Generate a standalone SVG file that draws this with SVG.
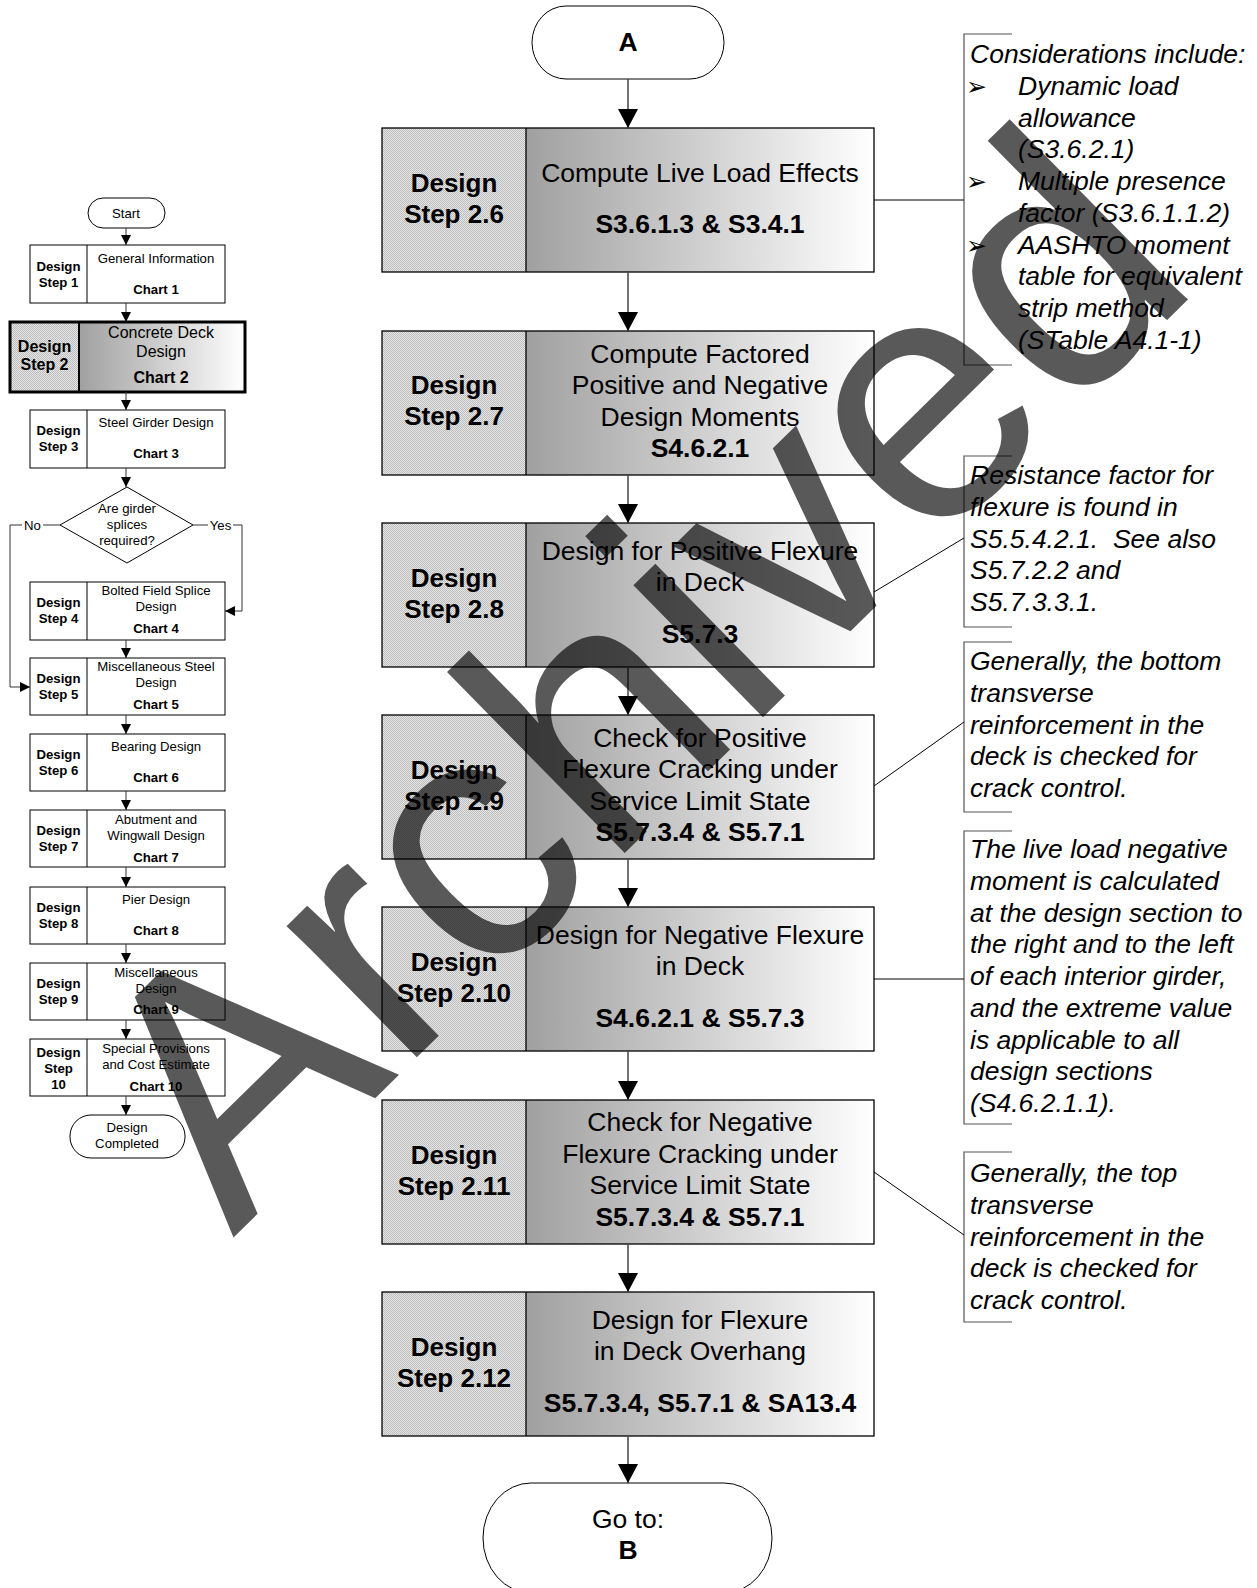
<svg xmlns="http://www.w3.org/2000/svg" width="1257" height="1588" viewBox="0 0 1257 1588">
  <defs>
    <pattern id="stipple" width="2" height="2" patternUnits="userSpaceOnUse">
      <rect width="2" height="2" fill="#e6e6e6"/>
      <rect width="1" height="1" fill="#bcbcbc"/>
      <rect x="1" y="1" width="1" height="1" fill="#bcbcbc"/>
    </pattern>
    <linearGradient id="shade" x1="0" y1="0" x2="1" y2="0">
      <stop offset="0" stop-color="#a0a0a0"/>
      <stop offset="1" stop-color="#ffffff"/>
    </linearGradient>
    <marker id="arrowL" viewBox="0 0 10 10" refX="10" refY="5" markerWidth="10" markerHeight="10" markerUnits="userSpaceOnUse" orient="auto">
      <path d="M0,0 L10,5 L0,10 Z" fill="#000"/>
    </marker>
    <marker id="arrowM" viewBox="0 0 19 20" refX="19" refY="10" markerWidth="19" markerHeight="20" markerUnits="userSpaceOnUse" orient="auto">
      <path d="M0,0 L19,10 L0,20 Z" fill="#000"/>
    </marker>
  </defs>
  <style>
    text { font-family: "Liberation Sans", Arial, sans-serif; fill: #000; }
    .box { fill: #fff; stroke: #000; stroke-width: 1; }
    .hl { stroke: #000; stroke-width: 3; fill: none; }
    .st { fill: url(#stipple); }
    .gr { fill: url(#shade); }
    .mbox { fill: none; stroke: #000; stroke-width: 1.3; }
    .s13 { font-size: 13.2px; text-anchor: middle; }
    .b13 { font-size: 13.2px; font-weight: bold; text-anchor: middle; }
    .s16 { font-size: 16px; text-anchor: middle; }
    .b16 { font-size: 16px; font-weight: bold; text-anchor: middle; }
    .mt { font-size: 26.5px; text-anchor: middle; }
    .mb { font-size: 26.5px; font-weight: bold; text-anchor: middle; }
    .lb { font-size: 26px; font-weight: bold; text-anchor: middle; }
    .note { font-size: 26.5px; font-style: italic; }
    .bul { font-family: "DejaVu Sans", sans-serif; font-size: 25px; }
    .conn { fill: none; stroke: #333; stroke-width: 1; }
    .mconn { fill: none; stroke: #444; stroke-width: 1.5; }
    .lead { fill: none; stroke: #000; stroke-width: 1; }
    .brk { fill: none; stroke: #555; stroke-width: 1.2; }
  </style>

  <!-- ===== overview flowchart (left) ===== -->
  <g id="start">
    <rect class="box" x="88" y="198" width="77" height="30" rx="15" ry="15"/>
    <text class="s13" x="126" y="218">Start</text>
  </g>
  <g id="step1">
    <rect class="box" x="30" y="245" width="195" height="58"/>
    <line x1="87" y1="245" x2="87" y2="303" stroke="#000"/>
    <text class="b13" x="58.5" y="271">Design</text>
    <text class="b13" x="58.5" y="287">Step 1</text>
    <text class="s13" x="156" y="263">General Information</text>
    <text class="b13" x="156" y="294">Chart 1</text>
  </g>
  <g id="step2">
    <rect class="st" x="10" y="322" width="69" height="70"/>
    <rect class="gr" x="79" y="322" width="166" height="70"/>
    <rect class="hl" x="10" y="322" width="235" height="70"/>
    <line x1="79" y1="322" x2="79" y2="392" stroke="#000" stroke-width="2"/>
    <text class="b16" x="44.5" y="352">Design</text>
    <text class="b16" x="44.5" y="370">Step 2</text>
    <text class="s16" x="161" y="338">Concrete Deck</text>
    <text class="s16" x="161" y="357">Design</text>
    <text class="b16" x="161" y="383">Chart 2</text>
  </g>
  <g id="step3">
    <rect class="box" x="30" y="410" width="195" height="58"/>
    <line x1="87" y1="410" x2="87" y2="468" stroke="#000"/>
    <text class="b13" x="58.5" y="435">Design</text>
    <text class="b13" x="58.5" y="451">Step 3</text>
    <text class="s13" x="156" y="427">Steel Girder Design</text>
    <text class="b13" x="156" y="458">Chart 3</text>
  </g>
  <g id="splices">
    <polygon class="box" points="127,487 193,525 127,563 60,525"/>
    <text class="s13" x="127" y="513">Are girder</text>
    <text class="s13" x="127" y="529">splices</text>
    <text class="s13" x="127" y="545">required?</text>
  </g>
  <g id="step4">
    <rect class="box" x="30" y="582" width="195" height="58"/>
    <line x1="87" y1="582" x2="87" y2="640" stroke="#000"/>
    <text class="b13" x="58.5" y="607">Design</text>
    <text class="b13" x="58.5" y="623">Step 4</text>
    <text class="s13" x="156" y="595">Bolted Field Splice</text>
    <text class="s13" x="156" y="611">Design</text>
    <text class="b13" x="156" y="633">Chart 4</text>
  </g>
  <g id="step5">
    <rect class="box" x="30" y="658" width="195" height="57"/>
    <line x1="87" y1="658" x2="87" y2="715" stroke="#000"/>
    <text class="b13" x="58.5" y="683">Design</text>
    <text class="b13" x="58.5" y="699">Step 5</text>
    <text class="s13" x="156" y="671">Miscellaneous Steel</text>
    <text class="s13" x="156" y="687">Design</text>
    <text class="b13" x="156" y="709">Chart 5</text>
  </g>
  <g id="step6">
    <rect class="box" x="30" y="734" width="195" height="57"/>
    <line x1="87" y1="734" x2="87" y2="791" stroke="#000"/>
    <text class="b13" x="58.5" y="759">Design</text>
    <text class="b13" x="58.5" y="775">Step 6</text>
    <text class="s13" x="156" y="751">Bearing Design</text>
    <text class="b13" x="156" y="782">Chart 6</text>
  </g>
  <g id="step7">
    <rect class="box" x="30" y="810" width="195" height="57"/>
    <line x1="87" y1="810" x2="87" y2="867" stroke="#000"/>
    <text class="b13" x="58.5" y="835">Design</text>
    <text class="b13" x="58.5" y="851">Step 7</text>
    <text class="s13" x="156" y="824">Abutment and</text>
    <text class="s13" x="156" y="840">Wingwall Design</text>
    <text class="b13" x="156" y="862">Chart 7</text>
  </g>
  <g id="step8">
    <rect class="box" x="30" y="887" width="195" height="57"/>
    <line x1="87" y1="887" x2="87" y2="944" stroke="#000"/>
    <text class="b13" x="58.5" y="912">Design</text>
    <text class="b13" x="58.5" y="928">Step 8</text>
    <text class="s13" x="156" y="904">Pier Design</text>
    <text class="b13" x="156" y="935">Chart 8</text>
  </g>
  <g id="step9">
    <rect class="box" x="30" y="963" width="195" height="57"/>
    <line x1="87" y1="963" x2="87" y2="1020" stroke="#000"/>
    <text class="b13" x="58.5" y="988">Design</text>
    <text class="b13" x="58.5" y="1004">Step 9</text>
    <text class="s13" x="156" y="977">Miscellaneous</text>
    <text class="s13" x="156" y="993">Design</text>
    <text class="b13" x="156" y="1014">Chart 9</text>
  </g>
  <g id="step10">
    <rect class="box" x="30" y="1039" width="195" height="57"/>
    <line x1="87" y1="1039" x2="87" y2="1096" stroke="#000"/>
    <text class="b13" x="58.5" y="1057">Design</text>
    <text class="b13" x="58.5" y="1073">Step</text>
    <text class="b13" x="58.5" y="1089">10</text>
    <text class="s13" x="156" y="1053">Special Provisions</text>
    <text class="s13" x="156" y="1069">and Cost Estimate</text>
    <text class="b13" x="156" y="1091">Chart 10</text>
  </g>
  <g id="completed">
    <rect class="box" x="70" y="1115" width="115" height="43" rx="21" ry="21"/>
    <text class="s13" x="127" y="1132">Design</text>
    <text class="s13" x="127" y="1148">Completed</text>
  </g>

  <!-- ===== detailed chart (centre) ===== -->
  <g id="termA">
    <rect class="box" x="532" y="6" width="192" height="73" rx="34" ry="36.5"/>
    <text class="mb" x="628" y="51" font-size="26">A</text>
  </g>
  <g id="step2-6">
    <rect class="st" x="382" y="128" width="144" height="144"/>
    <rect class="gr" x="526" y="128" width="348" height="144"/>
    <rect class="mbox" x="382" y="128" width="492" height="144"/>
    <line x1="526" y1="128" x2="526" y2="272" stroke="#000" stroke-width="1.3"/>
    <text class="lb" x="454" y="192">Design</text>
    <text class="lb" x="454" y="223">Step 2.6</text>
    <text class="mt" x="700" y="182">Compute Live Load Effects</text>
    <text class="mb" x="700" y="233">S3.6.1.3 &amp; S3.4.1</text>
  </g>
  <g id="step2-7">
    <rect class="st" x="382" y="331" width="144" height="144"/>
    <rect class="gr" x="526" y="331" width="348" height="144"/>
    <rect class="mbox" x="382" y="331" width="492" height="144"/>
    <line x1="526" y1="331" x2="526" y2="475" stroke="#000" stroke-width="1.3"/>
    <text class="lb" x="454" y="394">Design</text>
    <text class="lb" x="454" y="425">Step 2.7</text>
    <text class="mt" x="700" y="362.5">Compute Factored</text>
    <text class="mt" x="700" y="394">Positive and Negative</text>
    <text class="mt" x="700" y="425.5">Design Moments</text>
    <text class="mb" x="700" y="457">S4.6.2.1</text>
  </g>
  <g id="step2-8">
    <rect class="st" x="382" y="523" width="144" height="144"/>
    <rect class="gr" x="526" y="523" width="348" height="144"/>
    <rect class="mbox" x="382" y="523" width="492" height="144"/>
    <line x1="526" y1="523" x2="526" y2="667" stroke="#000" stroke-width="1.3"/>
    <text class="lb" x="454" y="586.5">Design</text>
    <text class="lb" x="454" y="617.5">Step 2.8</text>
    <text class="mt" x="700" y="559.5">Design for Positive Flexure</text>
    <text class="mt" x="700" y="591">in Deck</text>
    <text class="mb" x="700" y="642.5">S5.7.3</text>
  </g>
  <g id="step2-9">
    <rect class="st" x="382" y="715" width="144" height="144"/>
    <rect class="gr" x="526" y="715" width="348" height="144"/>
    <rect class="mbox" x="382" y="715" width="492" height="144"/>
    <line x1="526" y1="715" x2="526" y2="859" stroke="#000" stroke-width="1.3"/>
    <text class="lb" x="454" y="778.5">Design</text>
    <text class="lb" x="454" y="809.5">Step 2.9</text>
    <text class="mt" x="700" y="746.5">Check for Positive</text>
    <text class="mt" x="700" y="778">Flexure Cracking under</text>
    <text class="mt" x="700" y="809.5">Service Limit State</text>
    <text class="mb" x="700" y="841">S5.7.3.4 &amp; S5.7.1</text>
  </g>
  <g id="step2-10">
    <rect class="st" x="382" y="907" width="144" height="144"/>
    <rect class="gr" x="526" y="907" width="348" height="144"/>
    <rect class="mbox" x="382" y="907" width="492" height="144"/>
    <line x1="526" y1="907" x2="526" y2="1051" stroke="#000" stroke-width="1.3"/>
    <text class="lb" x="454" y="970.5">Design</text>
    <text class="lb" x="454" y="1001.5">Step 2.10</text>
    <text class="mt" x="700" y="943.5">Design for Negative Flexure</text>
    <text class="mt" x="700" y="975">in Deck</text>
    <text class="mb" x="700" y="1026.5">S4.6.2.1 &amp; S5.7.3</text>
  </g>
  <g id="step2-11">
    <rect class="st" x="382" y="1100" width="144" height="144"/>
    <rect class="gr" x="526" y="1100" width="348" height="144"/>
    <rect class="mbox" x="382" y="1100" width="492" height="144"/>
    <line x1="526" y1="1100" x2="526" y2="1244" stroke="#000" stroke-width="1.3"/>
    <text class="lb" x="454" y="1163.5">Design</text>
    <text class="lb" x="454" y="1194.5">Step 2.11</text>
    <text class="mt" x="700" y="1131">Check for Negative</text>
    <text class="mt" x="700" y="1162.5">Flexure Cracking under</text>
    <text class="mt" x="700" y="1194">Service Limit State</text>
    <text class="mb" x="700" y="1225.5">S5.7.3.4 &amp; S5.7.1</text>
  </g>
  <g id="step2-12">
    <rect class="st" x="382" y="1292" width="144" height="144"/>
    <rect class="gr" x="526" y="1292" width="348" height="144"/>
    <rect class="mbox" x="382" y="1292" width="492" height="144"/>
    <line x1="526" y1="1292" x2="526" y2="1436" stroke="#000" stroke-width="1.3"/>
    <text class="lb" x="454" y="1355.5">Design</text>
    <text class="lb" x="454" y="1386.5">Step 2.12</text>
    <text class="mt" x="700" y="1328.5">Design for Flexure</text>
    <text class="mt" x="700" y="1360">in Deck Overhang</text>
    <text class="mb" x="700" y="1411.5">S5.7.3.4, S5.7.1 &amp; SA13.4</text>
  </g>
  <g id="termB">
    <rect class="box" x="483" y="1483" width="289" height="110" rx="48" ry="55"/>
    <text class="mt" x="628" y="1528">Go to:</text>
    <text class="mb" x="628" y="1559">B</text>
  </g>

  <!-- ===== notes (right) ===== -->
  <g id="note1">
    <path class="brk" d="M1012,34 H964 V365 H1012"/>
    <text class="note" x="970" y="63">Considerations include:</text>
    <text class="bul" x="966" y="95">➢</text>
    <text class="note" x="1018" y="94.75">Dynamic load</text>
    <text class="note" x="1018" y="126.5">allowance</text>
    <text class="note" x="1018" y="158.25">(S3.6.2.1)</text>
    <text class="bul" x="966" y="190">➢</text>
    <text class="note" x="1018" y="190">Multiple presence</text>
    <text class="note" x="1018" y="221.75">factor (S3.6.1.1.2)</text>
    <text class="bul" x="966" y="253.5">➢</text>
    <text class="note" x="1018" y="253.5">AASHTO moment</text>
    <text class="note" x="1018" y="285.25">table for equivalent</text>
    <text class="note" x="1018" y="317">strip method</text>
    <text class="note" x="1018" y="348.75">(STable A4.1-1)</text>
  </g>
  <g id="note2">
    <path class="brk" d="M1012,456 H964 V627 H1012"/>
    <text class="note" x="970" y="484">Resistance factor for</text>
    <text class="note" x="970" y="515.75">flexure is found in</text>
    <text class="note" x="970" y="547.5">S5.5.4.2.1.&#160; See also</text>
    <text class="note" x="970" y="579.25">S5.7.2.2 and</text>
    <text class="note" x="970" y="611">S5.7.3.3.1.</text>
  </g>
  <g id="note3">
    <path class="brk" d="M1012,642 H964 V812 H1012"/>
    <text class="note" x="970" y="670">Generally, the bottom</text>
    <text class="note" x="970" y="701.75">transverse</text>
    <text class="note" x="970" y="733.5">reinforcement in the</text>
    <text class="note" x="970" y="765.25">deck is checked for</text>
    <text class="note" x="970" y="797">crack control.</text>
  </g>
  <g id="note4">
    <path class="brk" d="M1012,831 H964 V1124 H1012"/>
    <text class="note" x="970" y="858">The live load negative</text>
    <text class="note" x="970" y="889.75">moment is calculated</text>
    <text class="note" x="970" y="921.5">at the design section to</text>
    <text class="note" x="970" y="953.25">the right and to the left</text>
    <text class="note" x="970" y="985">of each interior girder,</text>
    <text class="note" x="970" y="1016.75">and the extreme value</text>
    <text class="note" x="970" y="1048.5">is applicable to all</text>
    <text class="note" x="970" y="1080.25">design sections</text>
    <text class="note" x="970" y="1112">(S4.6.2.1.1).</text>
  </g>
  <g id="note5">
    <path class="brk" d="M1012,1152 H964 V1322 H1012"/>
    <text class="note" x="970" y="1182">Generally, the top</text>
    <text class="note" x="970" y="1213.75">transverse</text>
    <text class="note" x="970" y="1245.5">reinforcement in the</text>
    <text class="note" x="970" y="1277.25">deck is checked for</text>
    <text class="note" x="970" y="1309">crack control.</text>
  </g>

  <!-- ===== connectors ===== -->
  <g id="connectors">
    <!-- overview chart -->
    <line class="conn" x1="126" y1="228" x2="126" y2="245" marker-end="url(#arrowL)"/>
    <line class="conn" x1="126" y1="303" x2="126" y2="322" marker-end="url(#arrowL)"/>
    <line class="conn" x1="126" y1="392" x2="126" y2="410" marker-end="url(#arrowL)"/>
    <line class="conn" x1="126" y1="468" x2="126" y2="487" marker-end="url(#arrowL)"/>
    <line class="conn" x1="126" y1="640" x2="126" y2="658" marker-end="url(#arrowL)"/>
    <line class="conn" x1="126" y1="715" x2="126" y2="734" marker-end="url(#arrowL)"/>
    <line class="conn" x1="126" y1="791" x2="126" y2="810" marker-end="url(#arrowL)"/>
    <line class="conn" x1="126" y1="867" x2="126" y2="887" marker-end="url(#arrowL)"/>
    <line class="conn" x1="126" y1="944" x2="126" y2="963" marker-end="url(#arrowL)"/>
    <line class="conn" x1="126" y1="1020" x2="126" y2="1039" marker-end="url(#arrowL)"/>
    <line class="conn" x1="126" y1="1096" x2="126" y2="1115" marker-end="url(#arrowL)"/>
    <!-- No branch -->
    <path class="conn" d="M60,525 H43"/>
    <path class="conn" d="M22,525 H10 V687 H30" marker-end="url(#arrowL)"/>
    <text class="s13" x="32.5" y="529.5">No</text>
    <!-- Yes branch -->
    <path class="conn" d="M193,525 H208"/>
    <path class="conn" d="M233,525 H242 V611 H225" marker-end="url(#arrowL)"/>
    <text class="s13" x="220.5" y="529.5">Yes</text>

    <!-- detailed chart -->
    <line class="mconn" x1="628" y1="79" x2="628" y2="128" marker-end="url(#arrowM)"/>
    <line class="mconn" x1="628" y1="272" x2="628" y2="331" marker-end="url(#arrowM)"/>
    <line class="mconn" x1="628" y1="475" x2="628" y2="523" marker-end="url(#arrowM)"/>
    <line class="mconn" x1="628" y1="667" x2="628" y2="715" marker-end="url(#arrowM)"/>
    <line class="mconn" x1="628" y1="859" x2="628" y2="907" marker-end="url(#arrowM)"/>
    <line class="mconn" x1="628" y1="1051" x2="628" y2="1100" marker-end="url(#arrowM)"/>
    <line class="mconn" x1="628" y1="1244" x2="628" y2="1292" marker-end="url(#arrowM)"/>
    <line class="mconn" x1="628" y1="1436" x2="628" y2="1483" marker-end="url(#arrowM)"/>

    <!-- note leaders -->
    <line class="lead" x1="874" y1="200" x2="964" y2="200"/>
    <line class="lead" x1="874" y1="592" x2="964" y2="538"/>
    <line class="lead" x1="874" y1="786" x2="964" y2="722"/>
    <line class="lead" x1="874" y1="979" x2="964" y2="979"/>
    <line class="lead" x1="874" y1="1172" x2="964" y2="1235"/>
  </g>

  <!-- status stamp laid over the whole sheet -->
  <text x="233" y="1238" transform="rotate(-44.5 233 1238)" font-size="350" fill="#000" fill-opacity="0.65" style="font-family:'Liberation Sans', Arial, sans-serif">Archived</text>
</svg>
